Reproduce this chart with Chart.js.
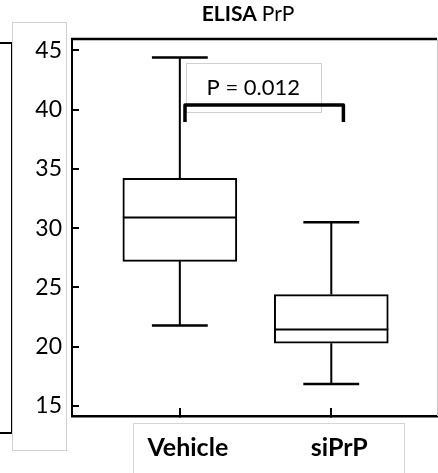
<!DOCTYPE html>
<html>
<head>
<meta charset="utf-8">
<script src="https://cdn.jsdelivr.net/npm/chart.js@4"></script>
<style>
  html, body { margin: 0; padding: 0; background: #fff; }
  #wrap { position: relative; width: 438px; height: 473px; overflow: hidden; }
  #wrap canvas { position: absolute; left: 0; top: 0; }
  .deco { position: absolute; box-sizing: border-box; }
  #side-panel { left: -4px; top: 42px; width: 17px; height: 392px; border: 2px solid #000; }
  #ylab-box { left: 12px; top: 22px; width: 55px; height: 429px; border: 1px solid #d2d2d2; }
  #xlab-box { left: 133px; top: 423px; width: 272px; height: 60px; border: 1px solid #d6d6d6; }
</style>
</head>
<body>
<div id="wrap">
  <div class="deco" id="side-panel"></div>
  <div class="deco" id="ylab-box"></div>
  <div class="deco" id="xlab-box"></div>
  <canvas id="boxChart" width="438" height="473"></canvas>
</div>
<script>
// values
const categories = ['Vehicle', 'siPrP'];
const whiskerMax = [44.4, 30.5];
const q3 = [34.2, 24.4];
const medians = [30.9, 21.45];
const q1 = [27.2, 20.3];
const whiskerMin = [21.8, 16.85];
const yTicks = [15, 20, 25, 30, 35, 40, 45];
const pValueText = 'P = 0.012';

const FONT = 'Lato, "Open Sans", sans-serif';

// annotation placement, in data units
const pBox = { x0: 1.04, x1: 1.93, yTop: 43.95, yBottom: 39.8 };
const bracket = { x0: 1.034, x1: 2.08, top: 40.38, foot: 38.96 };

const boxPlotPlugin = {
    id: 'boxPlot',
    afterDatasetsDraw(chart) {
        const ctx = chart.ctx;
        const xs = chart.scales.x;
        const ys = chart.scales.y;
        const area = chart.chartArea;
        const meta = chart.getDatasetMeta(0);

        ctx.save();
        ctx.strokeStyle = '#000';
        ctx.lineCap = 'butt';

        meta.data.forEach((bar, i) => {
            const half = bar.width / 2;
            const capHalf = half * 0.49;
            const yMax = ys.getPixelForValue(whiskerMax[i]);
            const yQ3 = ys.getPixelForValue(q3[i]);
            const yMed = ys.getPixelForValue(medians[i]);
            const yQ1 = ys.getPixelForValue(q1[i]);
            const yMin = ys.getPixelForValue(whiskerMin[i]);

            // whiskers
            ctx.lineWidth = 2;
            ctx.beginPath();
            ctx.moveTo(bar.x, yQ3);
            ctx.lineTo(bar.x, yMax);
            ctx.moveTo(bar.x, yQ1);
            ctx.lineTo(bar.x, yMin);
            ctx.stroke();

            // caps
            ctx.lineWidth = 2.5;
            ctx.beginPath();
            ctx.moveTo(bar.x - capHalf, yMax);
            ctx.lineTo(bar.x + capHalf, yMax);
            ctx.moveTo(bar.x - capHalf, yMin);
            ctx.lineTo(bar.x + capHalf, yMin);
            ctx.stroke();

            // median
            ctx.lineWidth = 2;
            ctx.beginPath();
            ctx.moveTo(bar.x - half, yMed);
            ctx.lineTo(bar.x + half, yMed);
            ctx.stroke();
        });

        // p-value label box
        const bx0 = xs.getPixelForValue(pBox.x0);
        const bx1 = xs.getPixelForValue(pBox.x1);
        const by0 = ys.getPixelForValue(pBox.yTop);
        const by1 = ys.getPixelForValue(pBox.yBottom);
        ctx.lineWidth = 1;
        ctx.strokeStyle = '#d0d0d0';
        ctx.strokeRect(Math.round(bx0) + 0.5, Math.round(by0) + 0.5, Math.round(bx1 - bx0), Math.round(by1 - by0));
        ctx.fillStyle = '#000';
        ctx.font = '22px ' + FONT;
        ctx.textAlign = 'center';
        ctx.textBaseline = 'alphabetic';
        ctx.fillText(pValueText, (bx0 + bx1) / 2, by0 + 32);

        // significance bracket
        ctx.strokeStyle = '#000';
        ctx.lineWidth = 3.5;
        ctx.lineJoin = 'round';
        ctx.beginPath();
        ctx.moveTo(xs.getPixelForValue(bracket.x0), ys.getPixelForValue(bracket.foot));
        ctx.lineTo(xs.getPixelForValue(bracket.x0), ys.getPixelForValue(bracket.top));
        ctx.lineTo(xs.getPixelForValue(bracket.x1), ys.getPixelForValue(bracket.top));
        ctx.lineTo(xs.getPixelForValue(bracket.x1), ys.getPixelForValue(bracket.foot));
        ctx.stroke();

        // top and right frame
        ctx.lineJoin = 'miter';
        ctx.lineWidth = 2.5;
        ctx.beginPath();
        ctx.moveTo(area.left - 1, area.top);
        ctx.lineTo(area.right, area.top);
        ctx.stroke();
        ctx.lineWidth = 1;
        ctx.strokeStyle = '#c8c8c8';
        ctx.beginPath();
        ctx.moveTo(area.right + 0.5, area.top);
        ctx.lineTo(area.right + 0.5, area.bottom);
        ctx.stroke();

        // title: bold "ELISA" + regular "PrP"
        ctx.fillStyle = '#000';
        ctx.textAlign = 'left';
        ctx.font = 'bold 21px ' + FONT;
        const w1 = ctx.measureText('ELISA ').width;
        ctx.font = '21px ' + FONT;
        const w2 = ctx.measureText('PrP').width;
        const tx = 248 - (w1 + w2) / 2;
        ctx.font = 'bold 21px ' + FONT;
        ctx.fillText('ELISA ', tx, 21);
        ctx.font = '21px ' + FONT;
        ctx.fillText('PrP', tx + w1, 21);

        ctx.restore();
    }
};

function buildChart() {
    const ctx = document.getElementById('boxChart').getContext('2d');

    new Chart(ctx, {
        type: 'bar',
        data: {
            datasets: [{
                data: categories.map((c, i) => ({ x: i + 1, y: [q1[i], q3[i]] })),
                backgroundColor: '#fff',
                borderColor: '#000',
                borderWidth: 2,
                borderSkipped: false,
                barThickness: 114
            }]
        },
        options: {
            responsive: false,
            animation: false,
            devicePixelRatio: 1,
            layout: { padding: { top: 39, right: 1, left: 0, bottom: 0 } },
            plugins: {
                legend: { display: false },
                tooltip: { enabled: false }
            },
            scales: {
                x: {
                    type: 'linear',
                    min: 0.288,
                    max: 2.698,
                    offset: false,
                    afterBuildTicks: scale => { scale.ticks = categories.map((c, i) => ({ value: i + 1 })); },
                    afterFit: scale => { scale.height = 57; },
                    ticks: {
                        callback: value => categories[value - 1],
                        font: { family: FONT, size: 25, weight: 'bold' },
                        color: '#000',
                        padding: 25,
                        labelOffset: 8,
                        maxRotation: 0,
                        autoSkip: false
                    },
                    grid: { offset: false, drawOnChartArea: false, drawTicks: true, tickLength: -8, color: '#000', lineWidth: 2 },
                    border: { display: true, color: '#000', width: 2.5 }
                },
                y: {
                    min: 14.16,
                    max: 45.95,
                    beginAtZero: false,
                    afterBuildTicks: scale => { scale.ticks = yTicks.map(v => ({ value: v })); },
                    afterFit: scale => { scale.width = 72; },
                    ticks: {
                        font: { family: FONT, size: 23 },
                        color: '#000',
                        padding: 17
                    },
                    grid: { drawOnChartArea: false, drawTicks: true, tickLength: -7, color: '#000', lineWidth: 2 },
                    border: { display: true, color: '#000', width: 2 }
                }
            }
        },
        plugins: [boxPlotPlugin]
    });
}

Promise.all([
    document.fonts.load('23px Lato'),
    document.fonts.load('bold 25px Lato')
]).then(buildChart, buildChart);
</script>
</body>
</html>
